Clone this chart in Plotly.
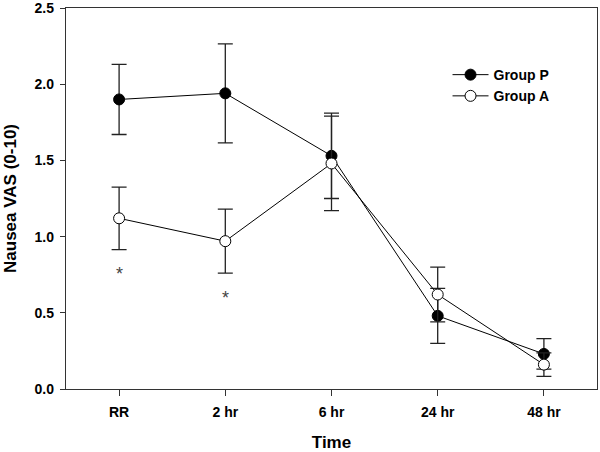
import plotly.graph_objects as go

times = ["RR", "2 hr", "6 hr", "24 hr", "48 hr"]
group_p = [1.90, 1.94, 1.53, 0.48, 0.23]
group_p_err = [0.23, 0.325, 0.28, 0.18, 0.10]
group_a = [1.12, 0.97, 1.48, 0.62, 0.16]
group_a_err = [0.205, 0.21, 0.31, 0.18, 0.077]
star_times = ["RR", "2 hr"]
star_y = [0.78, 0.625]

font_family = "Liberation Sans, Arial, sans-serif"

fig = go.Figure()
fig.add_trace(go.Scatter(
    x=times, y=group_p, name="Group P", mode="lines+markers",
    line=dict(color="black", width=1),
    marker=dict(symbol="circle", size=11, color="black", line=dict(color="black", width=1)),
    error_y=dict(type="data", array=group_p_err, color="#222222", thickness=1.3, width=7.5),
))
fig.add_trace(go.Scatter(
    x=times, y=group_a, name="Group A", mode="lines+markers",
    line=dict(color="black", width=1),
    marker=dict(symbol="circle", size=11, color="white", line=dict(color="black", width=1)),
    error_y=dict(type="data", array=group_a_err, color="#222222", thickness=1.3, width=7.5),
))

for t, yv in zip(star_times, star_y):
    fig.add_annotation(x=t, y=yv, text="*", showarrow=False, yshift=-4,
                       font=dict(family=font_family, size=18, color="#444444"))

fig.update_layout(
    width=600, height=452,
    margin=dict(l=66, r=3, t=8, b=63),
    paper_bgcolor="white", plot_bgcolor="white",
    font=dict(family=font_family, color="black"),
    showlegend=True,
    legend=dict(x=0.7185, y=0.866, xanchor="left", yanchor="top",
                bgcolor="rgba(0,0,0,0)", itemwidth=36,
                font=dict(family=font_family, size=14, weight="bold", color="black")),
    xaxis=dict(
        type="category", range=[-0.5, 4.5], automargin=False,
        showline=True, linecolor="#333333", linewidth=1.3, mirror=True,
        ticks="outside", ticklen=6, tickcolor="#333333", tickwidth=1.3,
        showgrid=False, zeroline=False, ticklabelstandoff=4,
        ticklabeloverflow="allow",
        tickfont=dict(family=font_family, size=14, weight="bold", color="black"),
        title=dict(text="Time", font=dict(family=font_family, size=17, weight="bold", color="black"), standoff=21),
    ),
    yaxis=dict(
        range=[0, 2.5], tickvals=[0, 0.5, 1.0, 1.5, 2.0, 2.5], automargin=False,
        ticktext=["0.0", "0.5", "1.0", "1.5", "2.0", "2.5"],
        showline=True, linecolor="#333333", linewidth=1.3, mirror=True,
        ticks="outside", ticklen=5, tickcolor="#333333", tickwidth=1.3,
        showgrid=False, zeroline=False, ticklabelstandoff=3,
        ticklabeloverflow="allow",
        tickfont=dict(family=font_family, size=14, weight="bold", color="black"),
        title=dict(text="Nausea VAS (0-10)", font=dict(family=font_family, size=17, weight="bold", color="black"), standoff=13),
    ),
)

fig.write_html("out.html", post_script="document.body.style.margin='0';",
               config={"displayModeBar": False})
